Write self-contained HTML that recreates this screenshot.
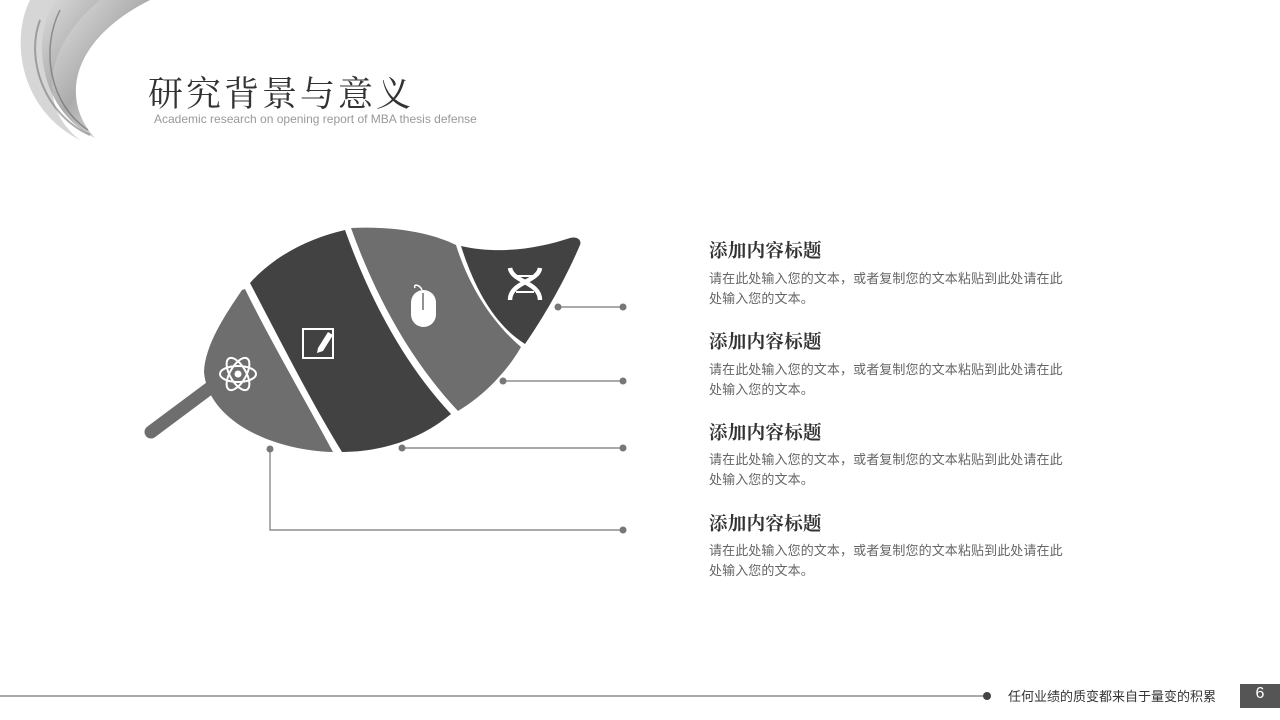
<!DOCTYPE html>
<html><head><meta charset="utf-8"><style>
body{margin:0;width:1280px;height:720px;background:#fff;position:relative;overflow:hidden;font-family:"Liberation Sans","Noto Sans CJK SC",sans-serif}
.t{position:absolute;white-space:nowrap}
h3{position:absolute;margin:0;left:709px;font-family:"Liberation Serif","Noto Serif CJK SC",serif;font-size:18.5px;font-weight:bold;color:#333;letter-spacing:0.3px}
.p{position:absolute;left:709px;font-size:13px;line-height:20px;color:#666;width:356px;letter-spacing:0.1px}
</style></head><body>
<svg width="1280" height="720" style="position:absolute;left:0;top:0">
<defs><linearGradient id="g" x1="0" y1="0" x2="1" y2="1"><stop offset="0" stop-color="#ddd"/><stop offset="0.5" stop-color="#888"/><stop offset="1" stop-color="#eee"/></linearGradient></defs>
<path d="M30,0 C10,40 20,110 80,140 C40,110 40,50 100,0 Z" fill="#bbb" opacity="0.6"/>
<path d="M55,0 C30,40 40,110 95,138 C60,100 70,40 150,0 Z" fill="url(#g)" opacity="0.7"/>
<path d="M40,20 C25,60 45,115 90,135" stroke="#777" stroke-width="2" fill="none" opacity="0.6"/>
<path d="M60,10 C40,50 50,105 88,130" stroke="#666" stroke-width="1.5" fill="none" opacity="0.6"/>
<line x1="151" y1="432" x2="214" y2="385" stroke="#6e6e6e" stroke-width="13" stroke-linecap="round"/>
<path d="M242,290 C225,315 205,345 204,372 C208,420 270,450 333,452 C305,400 270,340 245,289 Z" fill="#6e6e6e"/>
<path d="M250,283 C275,255 310,238 345,230 C370,300 405,365 451,414 C420,440 380,452 342,452 C310,400 280,340 250,283 Z" fill="#424242"/>
<path d="M351,228 C390,226 430,232 456,245 C470,290 495,325 521,347 C505,375 480,398 458,411 C410,360 375,295 351,228 Z" fill="#6e6e6e"/>
<path d="M461,246 C500,255 540,248 570,238 C577,236 582,240 580,245 C565,280 545,315 525,344 C495,325 475,290 461,246 Z" fill="#424242"/>
<g stroke="#777" stroke-width="1.2" fill="none">
<line x1="558" y1="307" x2="623" y2="307"/>
<line x1="503" y1="381" x2="623" y2="381"/>
<line x1="402" y1="448" x2="623" y2="448"/>
<polyline points="270,449 270,530 623,530"/>
</g>
<g fill="#777">
<circle cx="558" cy="307" r="3.5"/><circle cx="623" cy="307" r="3.5"/>
<circle cx="503" cy="381" r="3.5"/><circle cx="623" cy="381" r="3.5"/>
<circle cx="402" cy="448" r="3.5"/><circle cx="623" cy="448" r="3.5"/>
<circle cx="270" cy="449" r="3.5"/><circle cx="623" cy="530" r="3.5"/>
</g>
<g stroke="#fff" fill="none" stroke-width="2">
<ellipse cx="238" cy="374" rx="18" ry="8"/>
<ellipse cx="238" cy="374" rx="18" ry="8" transform="rotate(60 238 374)"/>
<ellipse cx="238" cy="374" rx="18" ry="8" transform="rotate(-60 238 374)"/>
<rect x="303" y="329" width="30" height="29"/>
<path d="M510,268 C512,282 540,282 540,300 M540,268 C538,282 510,282 510,300" stroke-width="4.5"/>
<path d="M516,276 H534 M516,292 H534" stroke-width="2"/>
<path d="M415,288 C413,283 420,285 422,290" stroke-width="1.5"/>
</g>
<circle cx="238" cy="374" r="3.5" fill="#fff"/>
<path d="M318,348 L328,332 L333,335 L323,351 L317,353 Z" fill="#fff"/>
<rect x="411" y="290" width="25" height="37" rx="12.5" fill="#fff"/>
<line x1="423" y1="293" x2="423" y2="310" stroke="#6e6e6e" stroke-width="1.5"/>
<line x1="0" y1="696" x2="986" y2="696" stroke="#555" stroke-width="1"/>
<circle cx="987" cy="696" r="4" fill="#444"/>
<rect x="1240" y="684" width="40" height="24" fill="#555"/>
</svg>
<div class="t" style="left:148px;top:67px;font-family:'Liberation Serif','Noto Serif CJK SC',serif;font-size:35px;color:#333;letter-spacing:3px">研究背景与意义</div>
<div class="t" style="left:154px;top:112px;font-size:12px;color:#999;letter-spacing:0px">Academic research on opening report of MBA thesis defense</div>
<h3 style="top:237px">添加内容标题</h3>
<div class="p" style="top:269px">请在此处输入您的文本，或者复制您的文本粘贴到此处请在此处输入您的文本。</div>
<h3 style="top:328px">添加内容标题</h3>
<div class="p" style="top:360px">请在此处输入您的文本，或者复制您的文本粘贴到此处请在此处输入您的文本。</div>
<h3 style="top:419px">添加内容标题</h3>
<div class="p" style="top:450px">请在此处输入您的文本，或者复制您的文本粘贴到此处请在此处输入您的文本。</div>
<h3 style="top:510px">添加内容标题</h3>
<div class="p" style="top:541px">请在此处输入您的文本，或者复制您的文本粘贴到此处请在此处输入您的文本。</div>
<div class="t" style="left:1008px;top:686px;font-size:13px;color:#333">任何业绩的质变都来自于量变的积累</div>
<div class="t" style="left:1240px;top:685px;width:40px;text-align:center;font-size:16px;color:#fff">6</div>
</body></html>
